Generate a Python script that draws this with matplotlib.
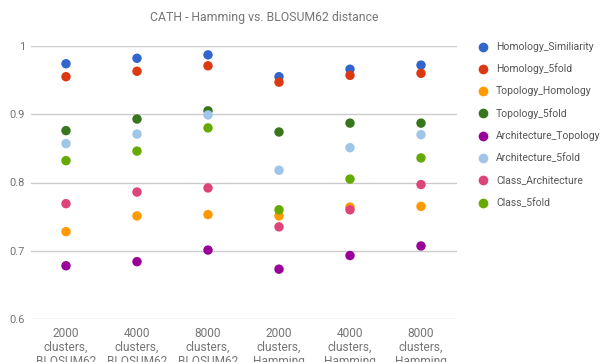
import matplotlib
matplotlib.use("Agg")
import matplotlib.pyplot as plt
from matplotlib.lines import Line2D

categories = ["2000\nclusters,\nBLOSUM62", "4000\nclusters,\nBLOSUM62", "8000\nclusters,\nBLOSUM62",
              "2000\nclusters,\nHamming", "4000\nclusters,\nHamming", "8000\nclusters,\nHamming"]

series_names = ["Homology_Similiarity", "Homology_5fold", "Topology_Homology", "Topology_5fold",
                "Architecture_Topology", "Architecture_5fold", "Class_Architecture", "Class_5fold"]

homology_similiarity = [0.974, 0.982, 0.987, 0.955, 0.966, 0.972]
homology_5fold = [0.955, 0.963, 0.971, 0.947, 0.957, 0.960]
topology_homology = [0.728, 0.751, 0.753, 0.751, 0.764, 0.765]
topology_5fold = [0.876, 0.893, 0.905, 0.874, 0.887, 0.887]
architecture_topology = [0.678, 0.684, 0.701, 0.673, 0.693, 0.707]
architecture_5fold = [0.857, 0.871, 0.899, 0.818, 0.851, 0.870]
class_architecture = [0.769, 0.786, 0.792, 0.735, 0.760, 0.797]
class_5fold = [0.832, 0.846, 0.880, 0.760, 0.805, 0.836]

series_values = [homology_similiarity, homology_5fold, topology_homology, topology_5fold,
                 architecture_topology, architecture_5fold, class_architecture, class_5fold]
colors = ["#3366cc", "#dc3912", "#ff9900", "#38761d", "#990099", "#9fc5e8", "#dd4477", "#66aa00"]

yticks = [0.6, 0.7, 0.8, 0.9, 1.0]
ytick_labels = ["0.6", "0.7", "0.8", "0.9", "1"]

plt.rcParams['font.family'] = ['Roboto', 'DejaVu Sans']

W, H = 605, 362
fig = plt.figure(figsize=(W / 100, H / 100), dpi=100)
ax = fig.add_axes([30.5 / W, 1 - 319 / H, 426 / W, 273 / H])

x = list(range(len(categories)))
for name, vals, c in zip(series_names, series_values, colors):
    ax.scatter(x, vals, s=46, color=c, edgecolors='none', zorder=3, label=name)

ax.set_xlim(-0.5, len(categories) - 0.5)
ax.set_ylim(0.6, 1.0)
ax.set_yticks(yticks)
ax.set_yticklabels(ytick_labels)
ax.set_xticks(x)
ax.set_xticklabels(categories, linespacing=1.12)
ax.grid(axis='y', color='#cccccc', linewidth=1)
ax.set_axisbelow(True)
for sp in ax.spines.values():
    sp.set_visible(False)
ax.tick_params(axis='y', length=0, colors='#757575', labelsize=8, pad=4)
ax.tick_params(axis='x', length=0, colors='#757575', labelsize=8.6, pad=5.5)
for lab in ax.get_xticklabels() + ax.get_yticklabels():
    lab.set_color('#757575')

fig.text(264 / W, 1 - 18 / H, "CATH - Hamming vs. BLOSUM62 distance", ha='center', va='center',
         fontsize=8.8, color='#757575')

# legend, drawn row by row
row0, step = 46.5, 22.3
for i, (name, c) in enumerate(zip(series_names, colors)):
    yy = 1 - (row0 + i * step) / H
    fig.add_artist(Line2D([483 / W], [yy], transform=fig.transFigure, marker='o', linestyle='none',
                          markersize=7, markerfacecolor=c, markeredgecolor='none'))
    fig.text(496 / W, yy, name, ha='left', va='center', fontsize=7.5, color='#555555')

fig.savefig("out.png", dpi=100)
